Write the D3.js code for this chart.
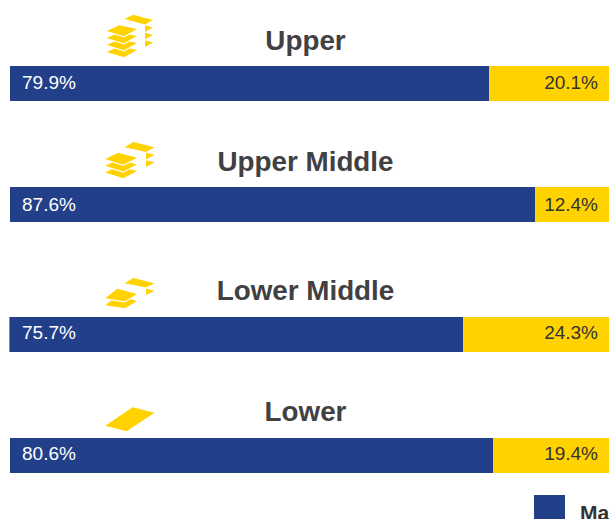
<!DOCTYPE html>
<html>
<head>
<meta charset="utf-8">
<script src="https://cdn.jsdelivr.net/npm/d3@7"></script>
<style>
  html, body { margin: 0; padding: 0; background: #fff; overflow: hidden; }
  svg { display: block; font-family: "Liberation Sans", sans-serif; }
</style>
</head>
<body>
<svg id="chart" width="609" height="519"></svg>
<script>
const tiers = ["Upper", "Upper Middle", "Lower Middle", "Lower"];
const maleShare = [79.9, 87.6, 75.7, 80.6];
const otherShare = [20.1, 12.4, 24.3, 19.4];
const legendLabels = ["Male"];

const blue = "#22408a";
const yellow = "#ffd200";

const svg = d3.select("#chart");
const x = d3.scaleLinear().domain([0, 100]).range([10, 609.5]);

const barTop = [66, 187, 317, 438];
const barHeight = 35;
const barShift = [0, 0, -0.6, 0];
const titleBase = [50, 171, 300, 421];
const valueBase = [89, 211, 339, 460];

tiers.forEach((tier, i) => {
  const g = svg.append("g").attr("transform", `translate(${barShift[i]},0)`);

  g.append("rect")
    .attr("x", x(0))
    .attr("y", barTop[i])
    .attr("width", x(maleShare[i]) - x(0))
    .attr("height", barHeight)
    .attr("fill", blue);

  g.append("rect")
    .attr("x", x(maleShare[i]))
    .attr("y", barTop[i])
    .attr("width", x(100) - x(100 - otherShare[i]) + 1)
    .attr("height", barHeight)
    .attr("fill", yellow);

  svg.append("text")
    .attr("x", 22)
    .attr("y", valueBase[i])
    .attr("fill", "#fff")
    .style("font-size", "19px")
    .text(maleShare[i].toFixed(1) + "%");

  svg.append("text")
    .attr("x", 598)
    .attr("y", valueBase[i])
    .attr("text-anchor", "end")
    .attr("fill", "#333")
    .style("font-size", "19px")
    .text(otherShare[i].toFixed(1) + "%");

  svg.append("text")
    .attr("x", 305.5)
    .attr("y", titleBase[i])
    .attr("text-anchor", "middle")
    .attr("fill", "#414042")
    .style("font-size", "27.8px")
    .style("font-weight", "bold")
    .text(tier);
});

// little stacks of paper next to the titles
const line = d3.line();
const icons = [
  { left: [[106.8, 30.9], [119.3, 25.2], [137, 29], [124, 36.2]], layers: 4, gap: 7,
    right: [[124.5, 19], [133.3, 14.7], [153, 20], [145, 24.6]], extra: 3, extraGap: 7.5 },
  { left: [[105.2, 159], [118.3, 152.8], [137, 157.7], [123.3, 164.8]], layers: 3, gap: 6.7,
    right: [[124.5, 147.3], [133.3, 142], [154.6, 147.3], [146, 152]], extra: 2, extraGap: 7.5 },
  { left: [[105.2, 298.3], [117.3, 288.8], [137, 294], [125, 301.2]], layers: 2, gap: 7,
    right: [[124.5, 283.3], [133.3, 278], [154.6, 283.3], [146, 287.6]], extra: 1, extraGap: 7.5 },
  { left: [[105.2, 425.7], [132.7, 407.2], [154.5, 412.7], [126.7, 431.2]], layers: 1, gap: 0,
    right: null, extra: 0, extraGap: 0 }
];

function sheet(g, pts, dy, clip) {
  // white copy just below the sheet gives the gap to the layer under it
  const white = g.append("path")
    .attr("transform", `translate(0,${dy + 1.2})`)
    .attr("fill", "#fff")
    .attr("d", line(pts) + "Z");
  const p = g.append("path")
    .attr("transform", `translate(0,${dy})`)
    .attr("fill", yellow)
    .attr("d", line(pts) + "Z");
  if (clip) {
    white.attr("clip-path", clip);
    p.attr("clip-path", clip);
  }
}

icons.forEach((ic, i) => {
  const g = svg.append("g");
  if (ic.right) {
    const clipId = "clip" + i;
    svg.append("clipPath").attr("id", clipId)
      .append("rect").attr("x", ic.right[3][0]).attr("y", 0).attr("width", 30).attr("height", 519);
    d3.range(ic.extra, 0, -1).forEach(k => sheet(g, ic.right, k * ic.extraGap, `url(#${clipId})`));
    sheet(g, ic.right, 0);
  }
  d3.range(ic.layers - 1, -1, -1).forEach(k => sheet(g, ic.left, k * ic.gap));
});

// legend runs off the right edge in the original
svg.append("rect")
  .attr("x", 534)
  .attr("y", 495)
  .attr("width", 31)
  .attr("height", 31)
  .attr("fill", blue);

svg.append("text")
  .attr("x", 580)
  .attr("y", 520)
  .attr("fill", "#333")
  .style("font-size", "21px")
  .style("font-weight", "bold")
  .text(legendLabels[0]);
</script>
</body>
</html>
